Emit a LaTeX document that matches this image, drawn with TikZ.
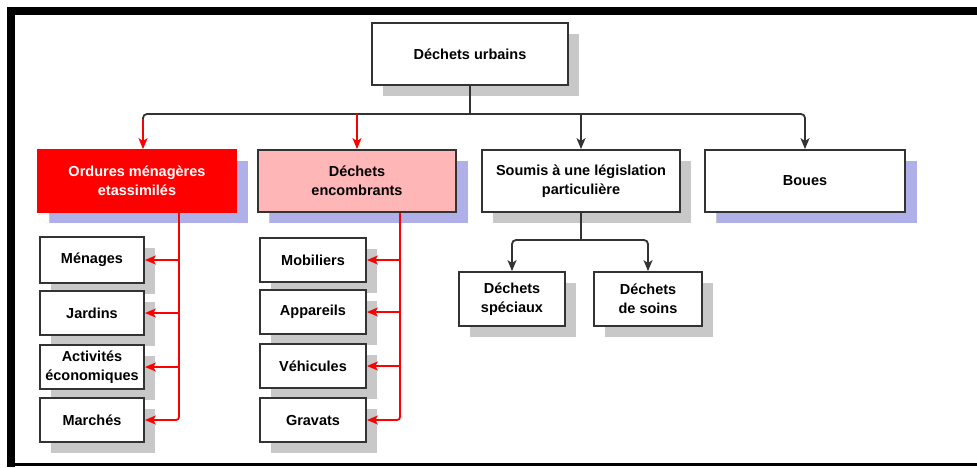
\documentclass[tikz,border=0pt]{standalone}
\usepackage{fontspec}
\setmainfont{Liberation Sans}
\usetikzlibrary{arrows.meta,shadows}
\definecolor{redc}{HTML}{FF0000}
\definecolor{pinkc}{HTML}{FFB6B6}
\definecolor{lavc}{HTML}{B0B0E8}
\definecolor{shg}{HTML}{C8C8C8}
\definecolor{lineg}{HTML}{333333}
\newcommand{\boxfont}{\fontsize{14.5}{19}\selectfont\bfseries}
\tikzset{
  box/.style={draw=lineg, line width=1.8pt, fill=white, inner sep=0pt, align=center,
    font=\boxfont, text=black,
    general shadow={fill=shg, shadow xshift=11pt, shadow yshift=-11pt}},
  lavshadow/.style={general shadow={fill=lavc, shadow xshift=12pt, shadow yshift=-11pt}},
  gline/.style={draw=lineg, line width=1.8pt},
  garrow/.style={gline, -{Stealth[length=11pt,width=9pt,inset=3pt]}},
  rline/.style={draw=redc, line width=1.8pt},
  rarrow/.style={rline, -{Stealth[length=11pt,width=9pt,inset=3pt]}},
}
\begin{document}
\begin{tikzpicture}[x=1pt,y=-1pt]
\useasboundingbox (0,0) rectangle (977,467);
% frame
\fill[black] (7,7) rectangle (977,15);
\fill[black] (7,7) rectangle (15,467);
\fill[black] (7,463) rectangle (977,466);

% top level
\node[box, minimum width=196pt, minimum height=62pt] (urbains) at (470,54) {Déchets urbains};

\node[box, draw=redc, fill=redc, text=white, lavshadow, minimum width=198pt, minimum height=62pt] (ordures) at (137,181) {Ordures ménagères\\etassimilés};
\node[box, fill=pinkc, lavshadow, minimum width=198pt, minimum height=62pt] (encombrants) at (357,181) {Déchets\\encombrants};
\node[box, minimum width=198pt, minimum height=62pt] (soumis) at (581,181) {Soumis à une législation\\particulière};
\node[box, lavshadow, minimum width=200pt, minimum height=62pt] (boues) at (805,181) {Boues};

% left children
\node[box, minimum width=104pt, minimum height=46pt] (menages) at (92,260) {Ménages};
\node[box, minimum width=104pt, minimum height=44pt] (jardins) at (92,313) {Jardins};
\node[box, minimum width=104pt, minimum height=44pt] (activites) at (92,367) {Activités\\économiques};
\node[box, minimum width=104pt, minimum height=44pt] (marches) at (92,420) {Marchés};

% middle children
\node[box, minimum width=106pt, minimum height=44pt] (mobiliers) at (313,260) {Mobiliers};
\node[box, minimum width=106pt, minimum height=44pt] (appareils) at (313,312) {Appareils};
\node[box, minimum width=106pt, minimum height=44pt] (vehicules) at (313,366) {Véhicules};
\node[box, minimum width=106pt, minimum height=44pt] (gravats) at (313,420) {Gravats};

% right children
\node[box, minimum width=106pt, minimum height=54pt] (speciaux) at (512,299) {Déchets\\spéciaux};
\node[box, minimum width=108pt, minimum height=54pt] (soins) at (648,299) {Déchets\\de soins};

% bus from urbains
\coordinate (bLc) at (143,114);
\coordinate (bL) at (143,119);
\draw[gline] (urbains.south) -- (urbains.south |- bLc);
\draw[gline, rounded corners=4pt] (bL) -- (bLc) -- (urbains.south |- bLc);
\draw[garrow, rounded corners=4pt] (urbains.south |- bLc) -| (boues.north);
\draw[rarrow] (bL) -- (ordures.north -| bL);
\draw[rarrow] (encombrants.north |- bLc) -- (encombrants.north);
\draw[garrow] (soumis.north |- bLc) -- (soumis.north);

% red branches (ordures)
\coordinate (r1) at (179,0);
\draw[rarrow, rounded corners=3pt] (ordures.south -| r1) |- (marches.east);
\draw[rarrow] (menages.east -| r1) -- (menages.east);
\draw[rarrow] (jardins.east -| r1) -- (jardins.east);
\draw[rarrow] (activites.east -| r1) -- (activites.east);

% red branches (encombrants)
\coordinate (r2) at (400,0);
\draw[rarrow, rounded corners=3pt] (encombrants.south -| r2) |- (gravats.east);
\draw[rarrow] (mobiliers.east -| r2) -- (mobiliers.east);
\draw[rarrow] (appareils.east -| r2) -- (appareils.east);
\draw[rarrow] (vehicules.east -| r2) -- (vehicules.east);

% soumis children
\coordinate (sb) at (0,240);
\draw[gline] (soumis.south) -- (soumis.south |- sb);
\draw[garrow, rounded corners=4pt] (soumis.south |- sb) -| (speciaux.north);
\draw[garrow, rounded corners=4pt] (soumis.south |- sb) -| (soins.north);
\end{tikzpicture}
\end{document}
